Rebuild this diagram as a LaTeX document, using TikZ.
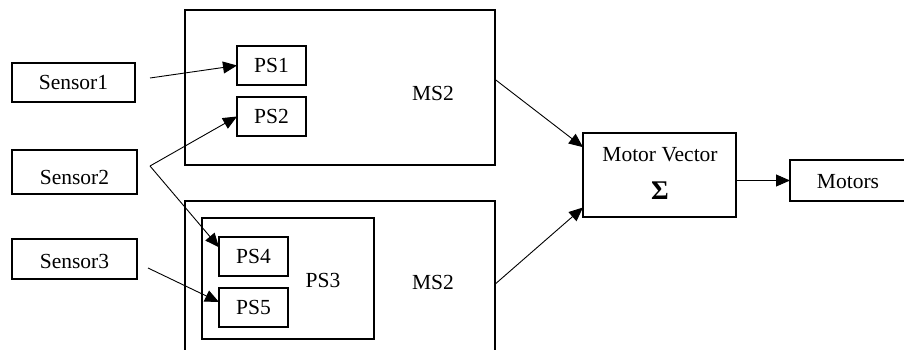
\documentclass[tikz,border=0pt]{standalone}
\usepackage{fontspec}
\setmainfont{Liberation Serif}
\usetikzlibrary{arrows.meta}
\begin{document}
\begin{tikzpicture}[x=1pt,y=-1pt,
  box/.style={draw,line width=1.2pt,inner sep=0pt,outer sep=0pt},
  lbl/.style={inner sep=0pt,font=\fontsize{21.5}{24}\selectfont},
  conn/.style={line width=0.9pt,-{Triangle[length=14pt,width=12pt]}}]
\useasboundingbox (0,0) rectangle (904,350);
\clip (0,0) rectangle (904,350);
\fill[white] (0,0) rectangle (904,350);

% sensors
\node[box,lbl,minimum width=123pt,minimum height=39pt] (s1) at (73.5,82.5) {Sensor1};
\node[box,lbl,minimum width=125pt,minimum height=44pt,text height=25pt,text depth=0pt] (s2) at (74.5,172) {Sensor2};
\node[box,lbl,minimum width=125pt,minimum height=40pt,text height=18pt,text depth=0pt] (s3) at (74.5,259) {Sensor3};

% upper motor schema
\node[box,minimum width=310pt,minimum height=155pt] (ms2a) at (340,87.5) {};
\node[lbl] (ms2alabel) at (433,93) {MS2};
\node[box,lbl,minimum width=69pt,minimum height=39pt] (ps1) at (271.5,65.5) {PS1};
\node[box,lbl,minimum width=69pt,minimum height=39pt] (ps2) at (271.5,116.5) {PS2};

% lower motor schema
\node[box,minimum width=310pt,minimum height=199pt] (ms2b) at (340,300.5) {};
\node[lbl] (ms2blabel) at (433,282) {MS2};
\node[box,minimum width=172pt,minimum height=121pt] (ps3) at (288,278.5) {};
\node[lbl] (ps3label) at (323,280) {PS3};
\node[box,lbl,minimum width=69pt,minimum height=39pt] (ps4) at (253.5,256.5) {PS4};
\node[box,lbl,minimum width=69pt,minimum height=39pt] (ps5) at (253.5,307.5) {PS5};

% motor vector and motors
\node[box,minimum width=153pt,minimum height=84pt] (mv) at (659.5,175) {};
\node[lbl] (mvlabel) at (660,155) {Motor Vector};
\node[inner sep=0pt,font=\fontsize{27}{30}\selectfont] (mvsigma) at (660,191) {\textbf{Σ}};
\node[box,minimum width=140pt,minimum height=41pt] (motors) at (860,180.5) {};
\node[lbl] (motorslabel) at (848,182) {Motors};

% sensor outputs
\coordinate (s1o) at (150,78);
\coordinate (s2o) at (150,166);
\coordinate (s3o) at (148,268);

\draw[conn] (s1o) -- (ps1.west);
\draw[conn] (s2o) -- (ps2.west);
\draw[conn] (s2o) -- (ps4.165);
\draw[conn] (s3o) -- (ps5.171);
\draw[conn] (ms2a.3) -- (mv.160);
\draw[conn] (ms2b.6) -- (mv.203);
\draw[conn] (motors.west -| mv.east) -- (motors.west);
\end{tikzpicture}
\end{document}
